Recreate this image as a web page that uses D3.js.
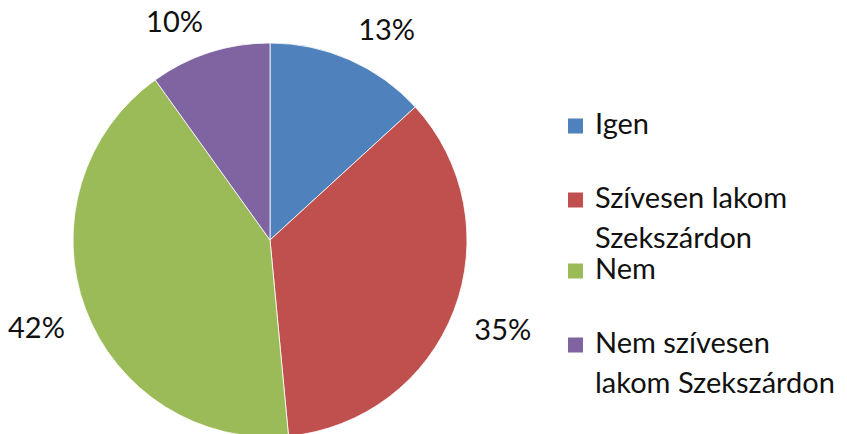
<!DOCTYPE html>
<html>
<head>
<meta charset="utf-8">
<script src="https://cdn.jsdelivr.net/npm/d3@7"></script>
<style>
  body { margin: 0; background: #fff; }
  svg text { font-family: Lato, "Open Sans", sans-serif; fill: #111; }
</style>
</head>
<body>
<div id="chart"></div>
<script>
// data
var categories = ["Igen", "Szívesen lakom Szekszárdon", "Nem", "Nem szívesen lakom Szekszárdon"];
var legendLines = [["Igen"], ["Szívesen lakom", "Szekszárdon"], ["Nem"], ["Nem szívesen", "lakom Szekszárdon"]];
var values = [13.2, 35.3, 41.6, 9.9];
var labels = ["13%", "35%", "42%", "10%"];
var colors = ["#4F81BD", "#C0504D", "#9BBB59", "#8064A2"];

var width = 847, height = 434;
var cx = 270, cy = 240, radius = 197;
var fontSize = 29;

var svg = d3.select("#chart").append("svg")
  .attr("width", width)
  .attr("height", height);

var color = d3.scaleOrdinal().domain(categories).range(colors);

var pie = d3.pie().sort(null).value(function (d) { return d.value; });
var arc = d3.arc().innerRadius(0).outerRadius(radius);

var rows = categories.map(function (c, i) {
  return {name: c, value: values[i], label: labels[i], lines: legendLines[i]};
});
var arcs = pie(rows);

var pieG = svg.append("g").attr("transform", "translate(" + cx + "," + cy + ")");

pieG.selectAll("path.slice").data(arcs).enter().append("path")
  .attr("class", "slice")
  .attr("d", arc)
  .attr("fill", function (d) { return color(d.data.name); })
  .attr("stroke", "#fff")
  .attr("stroke-width", 0.8);

// -- data labels, outside end, box pushed away from the pie
var labelR = radius + 22;
pieG.selectAll("text.lbl").data(arcs).enter().append("text")
  .attr("class", "lbl")
  .style("font-size", fontSize + "px")
  .text(function (d) { return d.data.label; })
  .each(function (d) {
    var a = (d.startAngle + d.endAngle) / 2;
    var x = labelR * Math.sin(a), y = -labelR * Math.cos(a);
    var bb = this.getBBox();
    var dx = Math.sin(a) >= 0 ? 0 : -bb.width;
    var capH = fontSize * 0.72;
    var dy = Math.cos(a) >= 0 ? 0 : capH;
    d3.select(this).attr("x", x + dx).attr("y", y + dy);
  });

// -- legend
var legendX = 568, boxSize = 15, textX = 595, lineGap = 40;
var legendY = [126, 200, 271, 345];

var legend = svg.append("g").attr("class", "legend");
var item = legend.selectAll("g.item").data(rows).enter().append("g")
  .attr("class", "item")
  .attr("transform", function (d, i) { return "translate(0," + legendY[i] + ")"; });

item.append("rect")
  .attr("x", legendX)
  .attr("y", -boxSize / 2)
  .attr("width", boxSize)
  .attr("height", boxSize)
  .attr("fill", function (d) { return color(d.name); });

item.append("text")
  .style("font-size", fontSize + "px")
  .attr("x", textX)
  .attr("y", 8)
  .selectAll("tspan").data(function (d) { return d.lines; }).enter().append("tspan")
  .attr("x", textX)
  .attr("dy", function (d, i) { return i === 0 ? 0 : lineGap; })
  .text(function (d) { return d; });
</script>
</body>
</html>
